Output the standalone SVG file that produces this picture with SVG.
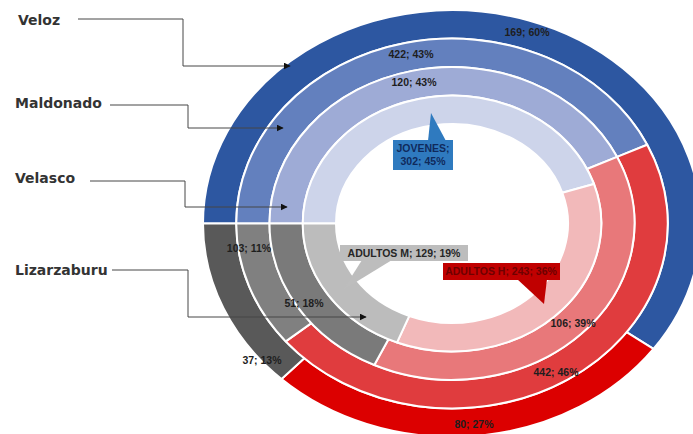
<svg xmlns="http://www.w3.org/2000/svg" width="693" height="434" viewBox="0 0 693 434">
  <style>
    .slice { stroke: #ffffff; stroke-width: 2; stroke-linejoin: round; }
    .val { font-family: "Liberation Sans", Arial, sans-serif; font-size: 10.5px; font-weight: bold; fill: #1e1e1e; text-anchor: middle; }
    .name { font-family: "DejaVu Sans", Verdana, sans-serif; font-size: 14px; font-weight: bold; fill: #333333; }
    .lead { fill: none; stroke: #474747; stroke-width: 1; marker-end: url(#arrow); }
    .callout { font-family: "Liberation Sans", Arial, sans-serif; font-size: 10.5px; font-weight: bold; text-anchor: middle; }
  </style>
  <defs>
    <marker id="arrow" viewBox="0 0 10 10" refX="9" refY="5" markerWidth="7" markerHeight="7" markerUnits="userSpaceOnUse" orient="auto">
      <path d="M0,0 L10,5 L0,10 Z" fill="#111111"/>
    </marker>
  </defs>

  <rect width="693" height="434" fill="#ffffff"/>

  <!-- Outer ring: Veloz -->
  <g id="ring-veloz">
    <path class="slice" fill="#2d57a1" d="M203,223.5 A249,213.39 0 1 1 653.45,348.93 L626.55,332.18 A215.75,184.9 0 1 0 236.25,223.5 Z"/>
    <path class="slice" fill="#dc0000" d="M653.45,348.93 A249,213.39 0 0 1 281.55,379.05 L304.31,358.29 A215.75,184.9 0 0 0 626.55,332.18 Z"/>
    <path class="slice" fill="#595959" d="M281.55,379.05 A249,213.39 0 0 1 203,223.5 L236.25,223.5 A215.75,184.9 0 0 0 304.31,358.29 Z"/>
  </g>

  <!-- Second ring: Maldonado -->
  <g id="ring-maldonado">
    <path class="slice" fill="#6380be" d="M236.25,223.5 A215.75,184.9 0 0 1 647.22,144.77 L617.13,156.91 A182.5,156.4 0 0 0 269.5,223.5 Z"/>
    <path class="slice" fill="#e03c3e" d="M647.22,144.77 A215.75,184.9 0 0 1 285.76,341.36 L311.38,323.19 A182.5,156.4 0 0 0 617.13,156.91 Z"/>
    <path class="slice" fill="#808080" d="M285.76,341.36 A215.75,184.9 0 0 1 236.25,223.5 L269.5,223.5 A182.5,156.4 0 0 0 311.38,323.19 Z"/>
  </g>

  <!-- Third ring: Velasco -->
  <g id="ring-velasco">
    <path class="slice" fill="#9eabd6" d="M269.5,223.5 A182.5,156.4 0 0 1 617.13,156.91 L587.05,169.04 A149.25,127.91 0 0 0 302.75,223.5 Z"/>
    <path class="slice" fill="#e8787a" d="M617.13,156.91 A182.5,156.4 0 0 1 374.3,365.02 L388.45,339.24 A149.25,127.91 0 0 0 587.05,169.04 Z"/>
    <path class="slice" fill="#7a7a7a" d="M374.3,365.02 A182.5,156.4 0 0 1 269.5,223.5 L302.75,223.5 A149.25,127.91 0 0 0 388.45,339.24 Z"/>
  </g>

  <!-- Inner ring: Lizarzaburu -->
  <g id="ring-lizarzaburu">
    <path class="slice" fill="#cdd4ea" d="M302.75,223.5 A149.25,127.91 0 0 1 593.94,183.97 L562.32,192.78 A116,99.41 0 0 0 336,223.5 Z"/>
    <path class="slice" fill="#f2b9ba" d="M593.94,183.97 A149.25,127.91 0 0 1 397.06,342.43 L409.3,315.93 A116,99.41 0 0 0 562.32,192.78 Z"/>
    <path class="slice" fill="#bcbcbc" d="M397.06,342.43 A149.25,127.91 0 0 1 302.75,223.5 L336,223.5 A116,99.41 0 0 0 409.3,315.93 Z"/>
  </g>

  <!-- Data labels -->
  <g id="data-labels">
    <text class="val" x="527" y="36">169; 60%</text>
    <text class="val" x="411" y="58">422; 43%</text>
    <text class="val" x="414" y="86">120; 43%</text>
    <text class="val" x="249" y="252">103; 11%</text>
    <text class="val" x="304" y="307">51; 18%</text>
    <text class="val" x="262" y="364">37; 13%</text>
    <text class="val" x="573" y="327">106; 39%</text>
    <text class="val" x="556" y="376">442; 46%</text>
    <text class="val" x="474" y="428">80; 27%</text>
  </g>

  <!-- Category callouts -->
  <g id="callout-jovenes">
    <polygon points="428,141 431,113 446,141" fill="#2f7abf"/>
    <rect x="393" y="140" width="60" height="30" fill="#2f7abf"/>
    <text class="callout" x="423" y="152" fill="#0f2a5c">JOVENES;</text>
    <text class="callout" x="423" y="165" fill="#0f2a5c">302; 45%</text>
  </g>
  <g id="callout-adultos-m">
    <polygon points="362,260 343,290 392,260" fill="#bdbdbd"/>
    <rect x="340" y="245" width="128" height="16" fill="#bdbdbd"/>
    <text class="callout" x="404" y="257" fill="#262626">ADULTOS M; 129; 19%</text>
  </g>
  <g id="callout-adultos-h">
    <polygon points="517,279 544,304 547,279" fill="#c00000"/>
    <rect x="443" y="263" width="117" height="17" fill="#c00000"/>
    <text class="callout" x="501" y="275" fill="#6e0000">ADULTOS H; 243; 36%</text>
  </g>

  <!-- Ring names -->
  <g id="label-veloz"><text class="name" x="18" y="25">Veloz</text></g>
  <g id="label-maldonado"><text class="name" x="15" y="108">Maldonado</text></g>
  <g id="label-velasco"><text class="name" x="15" y="183">Velasco</text></g>
  <g id="label-lizarzaburu"><text class="name" x="15" y="275">Lizarzaburu</text></g>

  <!-- Leader lines from names to rings -->
  <g id="connectors">
    <path class="lead" d="M78,19 H183 V66 H290"/>
    <path class="lead" d="M110,105 H188 V128 H283"/>
    <path class="lead" d="M90,181 H185 V207 H287"/>
    <path class="lead" d="M112,270 H188 V317 H366"/>
  </g>
</svg>
